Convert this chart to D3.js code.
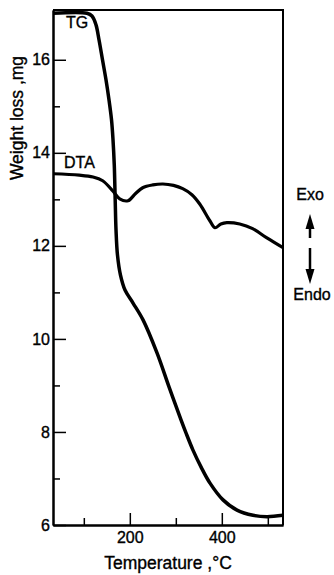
<!DOCTYPE html>
<html>
<head>
<meta charset="utf-8">
<script src="https://cdn.jsdelivr.net/npm/d3@7"></script>
<style>
  body { margin: 0; background: #fff; }
  text { font-family: "Liberation Sans", Arial, sans-serif; fill: #000; stroke: #000; stroke-width: 0.35px; }
</style>
</head>
<body>
<svg id="chart"></svg>
<script>
// TG curve (weight, mg)
var tgTemp   = [33, 107, 117.8, 126.5, 133, 140.6, 148.2, 154.7, 160.2, 163.4, 166.2, 168.2, 170, 173.2, 179.7, 189.5, 207, 228.7, 259.1, 285.2, 311.3, 322.1, 337.3, 354.7, 374.3, 402.6, 433, 467.8, 498.2, 533];
var tgWeight = [17.0, 17.0, 16.94, 16.75, 16.43, 16.0, 15.57, 15.14, 14.71, 14.29, 13.74, 12.99, 12.34, 11.8, 11.37, 11.05, 10.77, 10.41, 9.7, 8.97, 8.26, 7.98, 7.61, 7.25, 6.9, 6.54, 6.32, 6.21, 6.18, 6.21];

// DTA trace, plotted on the same vertical scale (arbitrary units)
var dtaTemp  = [33, 90, 120, 141, 163, 178, 196, 212, 228, 250, 272, 295, 315, 335, 352, 374, 385, 398, 411, 439, 467, 498, 533];
var dtaValue = [13.55, 13.52, 13.48, 13.4, 13.18, 13.01, 12.97, 13.12, 13.25, 13.31, 13.33, 13.3, 13.23, 13.1, 12.9, 12.54, 12.39, 12.47, 12.5, 12.47, 12.37, 12.17, 11.96];

var xMajor = [200, 400];
var xMinor = [100, 300, 500];
var yMajor = [6, 8, 10, 12, 14, 16];
var yMinor = [7, 9, 11, 13, 15];

var width = 334, height = 575;

var svg = d3.select("#chart")
    .attr("width", width)
    .attr("height", height);

var x = d3.scaleLinear().domain([33, 533]).range([53, 283]);
var y = d3.scaleLinear().domain([6, 17.07]).range([525, 10]);

var tg = tgTemp.map((t, i) => [t, tgWeight[i]]);
var dta = dtaTemp.map((t, i) => [t, dtaValue[i]]);

// frame on top and right
svg.append("path")
    .attr("d", "M" + x.range()[0] + "," + y.range()[1] + "H" + x.range()[1] + "V" + y.range()[0])
    .attr("fill", "none")
    .attr("stroke", "#000")
    .attr("stroke-width", 2);

// axes, ticks pointing inward
svg.append("g")
    .attr("transform", "translate(" + x.range()[0] + ",0)")
    .call(d3.axisLeft(y).tickValues(yMajor).tickSizeInner(-13).tickSizeOuter(0).tickPadding(3).tickFormat(d3.format("d")));
svg.append("g")
    .attr("transform", "translate(" + x.range()[0] + ",0)")
    .call(d3.axisLeft(y).tickValues(yMinor).tickSizeInner(-7).tickSizeOuter(0).tickFormat(""));

svg.append("g")
    .attr("transform", "translate(0," + y.range()[0] + ")")
    .call(d3.axisBottom(x).tickValues(xMajor).tickSizeInner(-12).tickSizeOuter(0).tickPadding(7));
svg.append("g")
    .attr("transform", "translate(0," + y.range()[0] + ")")
    .call(d3.axisBottom(x).tickValues(xMinor).tickSizeInner(-7).tickSizeOuter(0).tickFormat(""));

svg.selectAll(".domain").attr("stroke-width", 2);
svg.selectAll(".tick line").attr("stroke-width", 1.5);
svg.selectAll(".tick text").style("font-size", "16px");

// curves
var line = d3.line()
    .x(d => x(d[0]))
    .y(d => y(d[1]))
    .curve(d3.curveCatmullRom.alpha(0.5));

svg.append("path")
    .datum(tg)
    .attr("d", line)
    .attr("fill", "none")
    .attr("stroke", "#000")
    .attr("stroke-width", 3.5);

svg.append("path")
    .datum(dta)
    .attr("d", line)
    .attr("fill", "none")
    .attr("stroke", "#000")
    .attr("stroke-width", 3.2);

// labels
svg.append("text").attr("x", 66).attr("y", 28).style("font-size", "16px").text("TG");
svg.append("text").attr("x", 64).attr("y", 168).style("font-size", "16px").text("DTA");

svg.append("text")
    .attr("transform", "translate(23,118) rotate(-90)")
    .attr("text-anchor", "middle")
    .style("font-size", "17.5px")
    .text("Weight loss ,mg");

svg.append("text")
    .attr("x", 168).attr("y", 569)
    .attr("text-anchor", "middle")
    .style("font-size", "17.5px")
    .text("Temperature ,°C");

// exo / endo indicator
svg.append("text").attr("x", 310).attr("y", 200).attr("text-anchor", "middle").style("font-size", "16px").text("Exo");
svg.append("text").attr("x", 312).attr("y", 300).attr("text-anchor", "middle").style("font-size", "16px").text("Endo");

svg.append("line").attr("x1", 310).attr("x2", 310).attr("y1", 228).attr("y2", 238)
    .attr("stroke", "#000").attr("stroke-width", 2.5);
svg.append("path").attr("d", "M310,214L305.5,229L314.5,229Z").attr("fill", "#000");
svg.append("line").attr("x1", 310).attr("x2", 310).attr("y1", 248).attr("y2", 270)
    .attr("stroke", "#000").attr("stroke-width", 2.5);
svg.append("path").attr("d", "M310,284L305.5,269L314.5,269Z").attr("fill", "#000");
</script>
</body>
</html>
